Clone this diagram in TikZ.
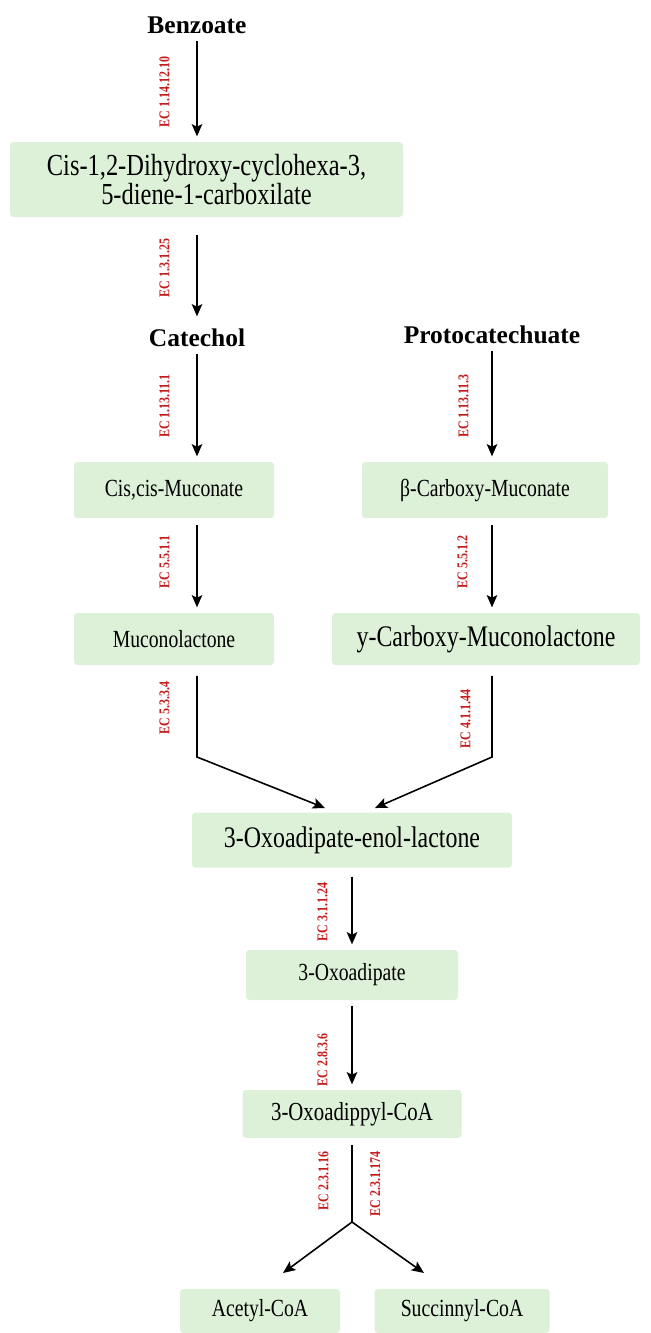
\documentclass[tikz,border=0pt]{standalone}
\usepackage{fontspec}
\setmainfont{Liberation Serif}[FakeStretch=0.8]
\newfontfamily\titlefont{Liberation Serif}
\usetikzlibrary{arrows.meta}

\definecolor{boxgreen}{RGB}{221,241,217}
\definecolor{ecred}{RGB}{196,28,28}
\newcommand{\px}{0.02cm}

\tikzset{
  compound/.style={fill=boxgreen, rounded corners=2pt, align=center, inner sep=0pt,
                   font=\fontsize{14}{17}\selectfont},
  bigname/.style={font=\fontsize{17}{20}\selectfont},
  title/.style={font=\titlefont\fontsize{14.5}{17}\selectfont\bfseries, inner sep=4pt},
  enzyme/.style={rotate=90, text=ecred, inner sep=0pt,
                 font=\fontsize{8.5}{9}\selectfont\bfseries},
  reaction/.style={-{Stealth[length=7pt, width=6pt, inset=1.5pt]}, line width=0.9pt,
                   shorten >=3pt},
  branch/.style={line width=0.9pt}
}

\begin{document}
\begin{tikzpicture}[x=0.02cm, y=-0.02cm]
            \useasboundingbox (0,0) rectangle (651,1333);
            % compounds on the catechol branch
            \node[title] (benz) at (197,25) {Benzoate};
            \node[compound, font=\fontsize{17.4}{16.5}\selectfont, minimum width=393*\px, minimum height=75*\px] (cis) at (206.5,179.5)
                {Cis-1,2-Dihydroxy-cyclohexa-3,\\5-diene-1-carboxilate};
            \node[title] (cat) at (197,338) {Catechol};
            \node[compound, minimum width=200*\px, minimum height=56*\px] (cc) at (174,490) {Cis,cis-Muconate};
            \node[compound, minimum width=200*\px, minimum height=52*\px] (ml) at (174,639) {Muconolactone};
            % compounds on the protocatechuate branch
            \node[title] (proto) at (492,335) {Protocatechuate};
            \node[compound, minimum width=246*\px, minimum height=56*\px] (bcm) at (485,490) {β-Carboxy-Muconate};
            \node[compound, bigname, minimum width=308*\px, minimum height=52*\px] (ycm) at (486,639) {y-Carboxy-Muconolactone};
            % common part
            \node[compound, bigname, minimum width=320*\px, minimum height=55*\px] (enol) at (352,840) {3-Oxoadipate-enol-lactone};
            \node[compound, minimum width=212*\px, minimum height=50*\px] (oxo) at (352,975) {3-Oxoadipate};
            \node[compound, font=\fontsize{14.8}{17}\selectfont, minimum width=219*\px, minimum height=48*\px] (coa) at (352,1114) {3-Oxoadippyl-CoA};
            \node[compound, minimum width=160*\px, minimum height=44*\px] (acetyl) at (260,1311) {Acetyl-CoA};
            \node[compound, minimum width=175*\px, minimum height=44*\px] (succ) at (462,1311) {Succinnyl-CoA};
            % kinks and ends of the bent connectors
            \coordinate (lkink) at (197,757);
            \coordinate (rkink) at (492,757);
            \coordinate (lend) at (325,808);
            \coordinate (rend) at (375,808);
            \coordinate (split) at (352,1222);
            \coordinate (aend) at (283,1273);
            \coordinate (send) at (424,1273);
            % reactions
            \draw[reaction] (benz) -- (benz |- cis.north);
            \draw[reaction, shorten <=10pt] (cat |- cis.south) -- (cat);
            \draw[reaction] (cat) -- (cat |- cc.north);
            \draw[reaction, shorten <=4pt] (cat |- cc.south) -- (cat |- ml.north);
            \draw[reaction] (proto) -- (proto |- bcm.north);
            \draw[reaction, shorten <=4pt] (proto |- bcm.south) -- (proto |- ycm.north);
            \draw[reaction, shorten <=6pt, shorten >=0pt] (cat |- ml.south) -- (lkink) -- (lend);
            \draw[reaction, shorten <=6pt, shorten >=0pt] (proto |- ycm.south) -- (rkink) -- (rend);
            \draw[reaction, shorten <=5pt] (enol) -- (oxo);
            \draw[reaction, shorten <=3pt] (oxo) -- (coa);
            \draw[branch, shorten <=4pt] (coa) -- (split);
            \draw[reaction, shorten >=0pt] (split) -- (aend);
            \draw[reaction, shorten >=0pt] (split) -- (send);
            % enzymes
            \node[enzyme, anchor=south] (e1) at (170,92) {EC 1.14.12.10};
            \node[enzyme, anchor=south] (e2) at (170,268) {EC 1.3.1.25};
            \node[enzyme, anchor=south] (e3) at (170,406) {EC 1.13.11.1};
            \node[enzyme, anchor=south] (e4) at (469,406) {EC 1.13.11.3};
            \node[enzyme, anchor=south] (e5) at (170,562) {EC 5.5.1.1};
            \node[enzyme, anchor=south] (e6) at (468,562) {EC 5.5.1.2};
            \node[enzyme, anchor=south] (e7) at (170,708) {EC 5.3.3.4};
            \node[enzyme, anchor=south] (e8) at (471,719) {EC 4.1.1.44};
            \node[enzyme, anchor=south] (e9) at (328,912) {EC 3.1.1.24};
            \node[enzyme, anchor=south] (e10) at (328,1060) {EC 2.8.3.6};
            \node[enzyme, anchor=south] (e11) at (329,1181) {EC 2.3.1.16};
            \node[enzyme, anchor=north] (e12) at (370,1184) {EC 2.3.1.174};
        \end{tikzpicture}
\end{document}
